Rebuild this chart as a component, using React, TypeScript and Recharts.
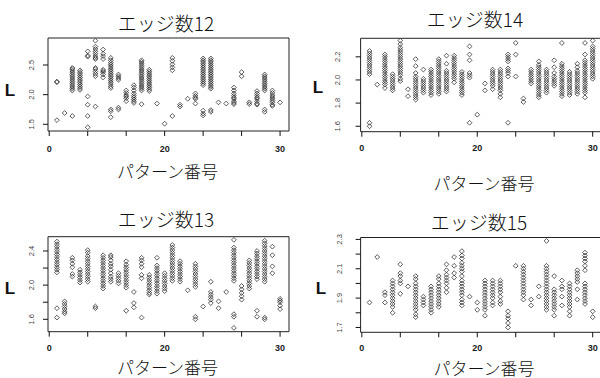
import React from 'react';
import { ScatterChart, Scatter, XAxis, YAxis, ReferenceArea } from 'recharts';

type Col = [number, number[]];

// ---- data: pattern number -> observed L values ----
const edge12: Col[] = [
  [1, [2.22, 2.21, 1.57]],
  [2, [1.69]],
  [3, [2.45, 2.43, 2.40, 2.37, 2.34, 2.31, 2.28, 2.25, 2.22, 2.19, 2.16, 2.13, 2.10, 2.07, 1.64]],
  [4, [2.41, 2.38, 2.35, 2.32, 2.29, 2.26, 2.23, 2.20, 2.17, 2.14, 2.11, 2.08]],
  [5, [2.73, 2.66, 2.64, 1.97, 1.83, 1.64, 1.45]],
  [6, [2.91, 2.81, 2.77, 2.73, 2.69, 2.65, 2.62, 2.60, 2.45, 2.43, 2.39, 2.35, 2.31, 1.80]],
  [7, [2.76, 2.69, 2.65, 2.60, 2.42, 2.40, 2.38, 2.34, 2.29]],
  [8, [2.62, 2.58, 2.54, 2.51, 2.48, 2.45, 2.42, 2.39, 2.36, 2.33, 2.30, 2.27, 2.24, 2.21, 2.18, 2.14, 2.11, 1.75, 1.72, 1.62]],
  [9, [2.34, 2.31, 2.28, 2.25, 1.78, 1.75]],
  [10, [2.07, 2.03, 1.99, 1.97, 1.94, 1.89]],
  [11, [2.16, 2.12, 2.07, 2.02, 1.98, 1.95, 1.92, 1.89, 1.86]],
  [12, [2.58, 2.55, 2.52, 2.49, 2.46, 2.43, 2.40, 2.37, 2.34, 2.31, 2.28, 2.25, 2.22, 2.19, 2.16, 2.13, 2.10, 2.07, 1.84]],
  [13, [2.42, 2.39, 2.36, 2.33, 2.30, 2.27, 2.24, 2.21, 2.18, 2.15, 2.12, 2.09, 2.06]],
  [14, [1.85]],
  [15, [1.51]],
  [16, [2.62, 2.57, 2.51, 2.46, 2.41, 1.64]],
  [17, [1.83, 1.80]],
  [18, [1.93]],
  [19, [2.02, 1.98, 1.95, 1.93, 1.85]],
  [20, [2.61, 2.58, 2.55, 2.52, 2.49, 2.46, 2.43, 2.40, 2.37, 2.34, 2.31, 2.28, 2.25, 2.22, 2.19, 2.16, 1.73, 1.68, 1.65]],
  [21, [2.61, 2.58, 2.55, 2.52, 2.49, 2.46, 2.43, 2.40, 2.37, 2.34, 2.31, 2.28, 2.25, 2.22, 2.19, 2.16, 2.13, 2.10, 1.74, 1.71]],
  [22, [1.87]],
  [23, [1.85]],
  [24, [2.12, 2.07, 2.02, 1.98, 1.95, 1.93, 1.89, 1.86, 1.84]],
  [25, [2.38, 2.31]],
  [26, [1.87, 1.84]],
  [27, [2.06, 2.02, 1.98, 1.95, 1.93, 1.89, 1.85, 1.83]],
  [28, [2.34, 2.31, 2.28, 2.25, 2.22, 2.19, 2.16, 2.13, 2.10, 2.07, 1.75, 1.71]],
  [29, [2.07, 2.03, 1.99, 1.96, 1.93, 1.90, 1.87, 1.83, 1.81]],
  [30, [1.87]],
];

const edge14: Col[] = [
  [1, [2.25, 2.23, 2.21, 2.19, 2.17, 2.15, 2.13, 2.11, 2.09, 2.07, 2.05, 1.63, 1.60]],
  [2, [1.96]],
  [3, [2.22, 2.20, 2.18, 2.16, 2.14, 2.12, 2.10, 2.08, 2.06, 2.04, 2.02, 2.00, 1.98, 1.96, 1.93]],
  [4, [2.05, 2.03, 2.01, 1.99, 1.97, 1.95, 1.93, 1.91]],
  [5, [2.34, 2.31, 2.28, 2.26, 2.24, 2.22, 2.20, 2.18, 2.16, 2.14, 2.12, 2.10, 2.08, 2.06, 2.04, 2.01, 1.99]],
  [6, [1.92, 1.86]],
  [7, [2.18, 2.12, 2.06, 2.03, 2.01, 1.99, 1.97, 1.95, 1.93, 1.91, 1.89, 1.87, 1.85, 1.83]],
  [8, [2.09, 2.01, 1.99, 1.97, 1.95, 1.93, 1.91, 1.89]],
  [9, [2.09, 2.07, 2.05, 2.03, 2.01, 1.99, 1.97, 1.95, 1.93, 1.91, 1.89, 1.87]],
  [10, [2.18, 2.16, 2.14, 2.12, 2.10, 2.08, 2.06, 2.04, 2.02, 2.00, 1.98, 1.96, 1.94, 1.92, 1.90, 1.88]],
  [11, [2.21, 2.14, 2.08, 2.06, 2.04, 2.02, 2.00, 1.98, 1.96, 1.94, 1.92, 1.90]],
  [12, [2.21, 2.19, 2.17, 2.15, 2.13, 2.11, 2.09, 2.07, 2.05, 2.03, 2.01, 1.98]],
  [13, [2.07, 2.05, 2.03, 2.01, 1.99, 1.97, 1.95, 1.93, 1.91, 1.89, 1.87]],
  [14, [2.29, 2.22, 2.17, 2.06, 2.04, 2.02, 1.63]],
  [15, [1.70]],
  [16, [1.97, 1.91]],
  [17, [2.09, 2.07, 2.05, 2.03, 2.01, 1.99, 1.97, 1.95, 1.92]],
  [18, [2.09, 2.07, 2.05, 2.03, 2.01, 1.99, 1.97, 1.95, 1.93, 1.91, 1.88, 1.85]],
  [19, [2.22, 2.20, 2.18, 2.16, 2.10, 2.08, 2.06, 2.03, 1.63]],
  [20, [2.32, 2.22, 2.03]],
  [21, [1.84, 1.81]],
  [22, [2.09, 2.07, 2.05, 2.03, 2.01, 1.99, 1.97]],
  [23, [2.16, 2.13, 2.11, 2.09, 2.07, 2.05, 2.03, 2.01, 1.99, 1.97, 1.95, 1.93, 1.91, 1.89, 1.87, 1.85]],
  [24, [2.09, 2.07, 2.05, 2.03, 2.01, 1.99, 1.97, 1.95, 1.93, 1.91, 1.89]],
  [25, [2.17, 2.11, 2.06, 2.03, 2.01, 1.99, 1.97, 1.95]],
  [26, [2.32, 2.14, 2.12, 2.10, 2.08, 2.06, 2.04, 2.02, 2.00, 1.98, 1.96, 1.94, 1.92, 1.90, 1.88, 1.86]],
  [27, [2.07, 2.05, 2.03, 2.01, 1.99, 1.97, 1.95, 1.93, 1.91, 1.89, 1.87]],
  [28, [2.14, 2.11, 2.08, 2.06, 2.04, 2.02, 2.00, 1.98, 1.96, 1.94, 1.92, 1.90, 1.88]],
  [29, [2.32, 2.22, 2.17, 2.15, 2.13, 2.11, 2.09, 2.07, 2.05, 2.03, 2.01, 1.99, 1.97, 1.95, 1.93, 1.91, 1.89, 1.85]],
  [30, [2.34, 2.29, 2.27, 2.25, 2.23, 2.21, 2.19, 2.17, 2.15, 2.13, 2.11, 2.09, 2.07, 2.05, 2.03, 2.01]],
];

const edge13: Col[] = [
  [1, [2.51, 2.48, 2.45, 2.42, 2.39, 2.36, 2.33, 2.30, 2.27, 2.24, 2.21, 2.18, 2.15, 1.73, 1.62]],
  [2, [1.81, 1.78, 1.75, 1.72, 1.69, 1.67]],
  [3, [2.32, 2.29, 2.25, 2.21, 2.13, 2.10]],
  [4, [2.18, 2.15, 2.12, 2.09, 2.06, 2.03]],
  [5, [2.41, 2.38, 2.34, 2.31, 2.28, 2.25, 2.22, 2.19, 2.16, 2.13, 2.10, 2.07, 2.04]],
  [6, [1.75, 1.73]],
  [7, [2.35, 2.32, 2.29, 2.26, 2.23, 2.20, 2.17, 2.14, 2.11, 2.08, 2.05, 2.02, 1.99, 1.96]],
  [8, [2.35, 2.33, 2.29, 2.25, 2.22, 2.18, 2.14, 2.10, 2.07, 2.04]],
  [9, [2.14, 2.11, 2.08, 2.05, 2.02]],
  [10, [2.28, 2.24, 2.21, 2.18, 2.15, 2.12, 2.09, 2.06, 2.03, 2.00, 1.97, 1.70]],
  [11, [1.92, 1.79, 1.74]],
  [12, [2.32, 2.29, 2.25, 2.21, 2.12, 2.08, 1.62]],
  [13, [2.12, 2.09, 2.06, 2.03, 2.00, 1.97, 1.94, 1.91, 1.89]],
  [14, [2.32, 2.23, 2.20, 2.17, 2.14, 2.11, 2.08, 2.05, 2.02, 1.99, 1.96, 1.93, 1.90]],
  [15, [2.14, 2.11, 2.08, 2.05, 2.02, 1.99, 1.96, 1.93]],
  [16, [2.47, 2.44, 2.41, 2.38, 2.35, 2.32, 2.29, 2.26, 2.23, 2.20, 2.17, 2.14, 2.11, 2.08, 2.05]],
  [17, [2.28, 2.25, 2.22, 2.19, 2.16, 2.13, 2.10, 2.07, 2.04]],
  [18, [1.94]],
  [19, [2.25, 2.22, 2.19, 2.16, 2.13, 2.10, 2.07, 2.04, 2.01, 1.98, 1.63, 1.60]],
  [20, [1.75]],
  [21, [2.04, 1.92, 1.89, 1.86, 1.83, 1.79]],
  [22, [1.81, 1.73]],
  [23, [1.92]],
  [24, [2.53, 2.44, 2.41, 2.38, 2.35, 2.32, 2.29, 2.26, 2.23, 2.20, 2.17, 2.14, 2.11, 2.08, 2.05, 1.66, 1.63, 1.50]],
  [25, [1.99, 1.95, 1.91, 1.87, 1.83]],
  [26, [2.29, 2.26, 2.23, 2.20, 2.17, 2.14, 2.11, 2.08, 2.05, 2.02, 1.99, 1.96]],
  [27, [2.40, 2.37, 2.34, 2.31, 2.28, 2.25, 2.22, 2.19, 2.16, 2.13, 2.10, 2.07, 1.70, 1.63]],
  [28, [2.52, 2.49, 2.46, 2.43, 2.40, 2.37, 2.34, 2.31, 2.28, 2.25, 2.22, 2.19, 2.16, 2.13, 2.10, 2.07, 2.04, 1.62, 1.60]],
  [29, [2.45, 2.35, 2.22, 2.14]],
  [30, [1.84, 1.82, 1.80, 1.76, 1.72]],
];

const edge15: Col[] = [
  [1, [1.87]],
  [2, [2.18]],
  [3, [1.94, 1.92, 1.87]],
  [4, [2.02, 2.00, 1.98, 1.96, 1.94, 1.92, 1.90, 1.88, 1.86, 1.84, 1.80]],
  [5, [2.13, 2.07, 2.05, 2.02, 2.00, 1.93]],
  [6, [1.98]],
  [7, [2.05, 2.03, 2.00, 1.98, 1.96, 1.94, 1.92, 1.90, 1.88, 1.86, 1.84, 1.82, 1.79, 1.77]],
  [8, [1.91, 1.89, 1.87, 1.85]],
  [9, [1.98, 1.96, 1.94, 1.92, 1.90, 1.88, 1.86, 1.84, 1.82, 1.80]],
  [10, [2.05, 2.03, 2.00, 1.98, 1.96, 1.94, 1.92, 1.90, 1.88, 1.86, 1.84]],
  [11, [2.13, 2.09, 2.06, 2.04, 2.02, 2.00, 1.97, 1.94]],
  [12, [2.18, 2.12, 2.07, 2.04]],
  [13, [2.22, 2.19, 2.17, 2.14, 2.12, 2.10, 2.08, 2.05, 2.02, 2.00, 1.98, 1.96, 1.94, 1.92, 1.89, 1.87, 1.85]],
  [14, [1.91]],
  [15, [1.87, 1.82]],
  [16, [2.02, 2.00, 1.98, 1.96, 1.94, 1.92, 1.90, 1.88, 1.86, 1.84, 1.82, 1.78]],
  [17, [2.02, 2.00, 1.98, 1.96, 1.94, 1.92, 1.90, 1.87, 1.85]],
  [18, [2.02, 2.00, 1.98, 1.96, 1.94, 1.91, 1.88, 1.86]],
  [19, [1.81, 1.78, 1.76, 1.73, 1.70]],
  [20, [2.12]],
  [21, [2.12, 2.10, 2.08, 2.06, 2.04, 2.02, 2.00, 1.98, 1.96, 1.94, 1.92, 1.89]],
  [22, [1.89, 1.85]],
  [23, [1.98, 1.91]],
  [24, [2.29, 2.12, 2.10, 2.08, 2.06, 2.04, 2.02, 2.00, 1.98, 1.96, 1.94, 1.92, 1.90, 1.88, 1.86, 1.84, 1.82]],
  [25, [2.05, 1.96, 1.94, 1.92, 1.90, 1.88, 1.86, 1.84, 1.82, 1.78]],
  [26, [2.02, 1.98, 1.96, 1.91, 1.85]],
  [27, [2.00, 1.98, 1.96, 1.94, 1.92, 1.90, 1.88, 1.86, 1.84, 1.81, 1.78]],
  [28, [2.09, 2.07, 2.05, 2.03, 2.01, 1.96, 1.89]],
  [29, [2.21, 2.19, 2.17, 2.15, 2.12, 2.09, 2.00, 1.98, 1.96, 1.94, 1.92, 1.90, 1.88, 1.86]],
  [30, [1.81, 1.77]],
];

// ---- ticks / labels ----
const xTicks = [0, 5, 10, 15, 20, 25, 30];
const xTickLabels = ['0', '', '', '20', '', '', '30'];
const yTicks12 = [1.5, 2.0, 2.5];
const yTickLabels12 = ['1.5', '2.0', '2.5'];
const yTicks14 = [1.6, 1.8, 2.0, 2.2];
const yTickLabels14 = ['1.6', '1.8', '2.0', '2.2'];
const yTicks13 = [1.6, 1.8, 2.0, 2.2, 2.4];
const yTickLabels13 = ['1.6', '', '2.0', '', '2.4'];
const yTicks15 = [1.7, 1.8, 1.9, 2.0, 2.1, 2.2, 2.3];
const yTickLabels15 = ['1.7', '', '1.9', '', '2.1', '', '2.3'];
const titles = ['エッジ数12', 'エッジ数14', 'エッジ数13', 'エッジ数15'];
const xAxisTitle = 'パターン番号';
const yAxisTitle = 'L';

const X_DOMAIN: [number, number] = [-0.16, 31.16];
const JP = '"Noto Sans CJK JP", "Noto Sans", sans-serif';

const toPoints = (cols: Col[]) => cols.flatMap(([x, ys]) => ys.map((y) => ({ x, y })));

const Diamond = (props: any) => {
  const { cx, cy } = props;
  if (cx == null || cy == null) return null;
  const r = 2.4;
  return (
    <path
      d={`M${cx},${cy - r}L${cx + r},${cy}L${cx},${cy + r}L${cx - r},${cy}Z`}
      fill="none"
      stroke="#2a2a2a"
      strokeWidth={0.75}
    />
  );
};

type Spec = {
  cols: Col[];
  title: string;
  left: number;
  top: number;
  width: number;
  margin: { top: number; right: number; bottom: number; left: number };
  yDomain: [number, number];
  yTicks: number[];
  yTickLabels: string[];
  yLabelOff: number;
  xLabelOff: number;
  titlePos: [number, number];
  xTitlePos: [number, number];
  lPos: [number, number];
};

const specs: Spec[] = [
  {
    cols: edge12, title: titles[0], left: 0, top: 0, width: 300,
    margin: { top: 38, right: 11, bottom: 28, left: 8 },
    yDomain: [1.387, 2.955], yTicks: yTicks12, yTickLabels: yTickLabels12,
    yLabelOff: 16.3, xLabelOff: 18,
    titlePos: [166, 21.7], xTitlePos: [167.5, 170], lPos: [10, 90],
  },
  {
    cols: edge14, title: titles[1], left: 300, top: 0, width: 310,
    margin: { top: 38.3, right: 8.4, bottom: 27.3, left: 20.6 },
    yDomain: [1.553, 2.36], yTicks: yTicks14, yTickLabels: yTickLabels14,
    yLabelOff: 22.6, xLabelOff: 16.6,
    titlePos: [475, 18.3], xTitlePos: [484, 181.7], lPos: [318, 87],
  },
  {
    cols: edge13, title: titles[2], left: 0, top: 189, width: 300,
    margin: { top: 47.7, right: 11, bottom: 16.3, left: 8 },
    yDomain: [1.455, 2.567], yTicks: yTicks13, yTickLabels: yTickLabels13,
    yLabelOff: 16.3, xLabelOff: 16.6,
    titlePos: [166, 218], xTitlePos: [167.5, 366], lPos: [10, 288],
  },
  {
    cols: edge15, title: titles[3], left: 300, top: 189, width: 310,
    margin: { top: 48.5, right: 8.4, bottom: 15.7, left: 20.6 },
    yDomain: [1.667, 2.313], yTicks: yTicks15, yTickLabels: yTickLabels15,
    yLabelOff: 20.6, xLabelOff: 15.7,
    titlePos: [479, 220.7], xTitlePos: [484, 366.5], lPos: [321, 288],
  },
];

const TICK = 5;

function Panel({ s }: { s: Spec }) {
  const data = toPoints(s.cols);
  const XTick = (p: any) => {
    const i = xTicks.indexOf(p.payload.value);
    const label = i >= 0 ? xTickLabels[i] : '';
    if (!label) return <g />;
    return (
      <text x={p.x} y={p.y - TICK + s.xLabelOff} textAnchor="middle" dominantBaseline="central"
        fontFamily='"Liberation Sans", Arial, sans-serif' fontWeight="bold" fontSize={9} fill="#222">
        {label}
      </text>
    );
  };
  const YTick = (p: any) => {
    const i = s.yTicks.indexOf(p.payload.value);
    const label = i >= 0 ? s.yTickLabels[i] : '';
    if (!label) return <g />;
    const cx = p.x + TICK - s.yLabelOff;
    return (
      <text x={cx} y={p.y} textAnchor="middle" dominantBaseline="central" transform={`rotate(-90, ${cx}, ${p.y})`}
        fontFamily='"Liberation Sans", Arial, sans-serif' fontSize={7.5} fill="#444">
        {label}
      </text>
    );
  };
  return (
    <div style={{ position: 'absolute', left: s.left, top: s.top, width: s.width, height: 189 }}>
      <ScatterChart width={s.width} height={189} margin={s.margin}>
        <XAxis
          type="number" dataKey="x" domain={X_DOMAIN} allowDataOverflow ticks={xTicks} interval={0}
          axisLine={false} tickLine={{ stroke: '#111', strokeWidth: 1 }} tickSize={TICK} tickMargin={0}
          height={30} tick={XTick}
        />
        <YAxis
          type="number" dataKey="y" domain={s.yDomain} allowDataOverflow ticks={s.yTicks} interval={0}
          axisLine={false} tickLine={{ stroke: '#111', strokeWidth: 1 }} tickSize={TICK} tickMargin={0}
          width={40} tick={YTick}
        />
        <ReferenceArea
          x1={X_DOMAIN[0]} x2={X_DOMAIN[1]} y1={s.yDomain[0]} y2={s.yDomain[1]}
          fill="none" fillOpacity={0} stroke="#222" strokeWidth={1} ifOverflow="visible"
        />
        <Scatter data={data} shape={Diamond} isAnimationActive={false} />
      </ScatterChart>
    </div>
  );
}

const textStyle = (x: number, y: number, size: number, extra: React.CSSProperties = {}): React.CSSProperties => ({
  position: 'absolute', left: x, top: y, transform: 'translate(-50%, -50%)', whiteSpace: 'nowrap',
  fontFamily: JP, fontSize: size, lineHeight: 1, color: '#111', fontWeight: 300, ...extra,
});

export default function App() {
  return (
    <div style={{ position: 'absolute', left: 0, top: 0, width: 600, height: 378, overflow: 'hidden', background: '#fff' }}>
      {specs.map((s, i) => (
        <Panel key={i} s={s} />
      ))}
      {specs.map((s, i) => (
        <React.Fragment key={'t' + i}>
          <div style={textStyle(s.titlePos[0], s.titlePos[1], 19)}>{s.title}</div>
          <div style={textStyle(s.xTitlePos[0], s.xTitlePos[1], 17)}>{xAxisTitle}</div>
          <div style={textStyle(s.lPos[0], s.lPos[1], 17, { fontFamily: '"Liberation Sans", Arial, sans-serif', fontWeight: 'bold' })}>{yAxisTitle}</div>
        </React.Fragment>
      ))}
    </div>
  );
}
